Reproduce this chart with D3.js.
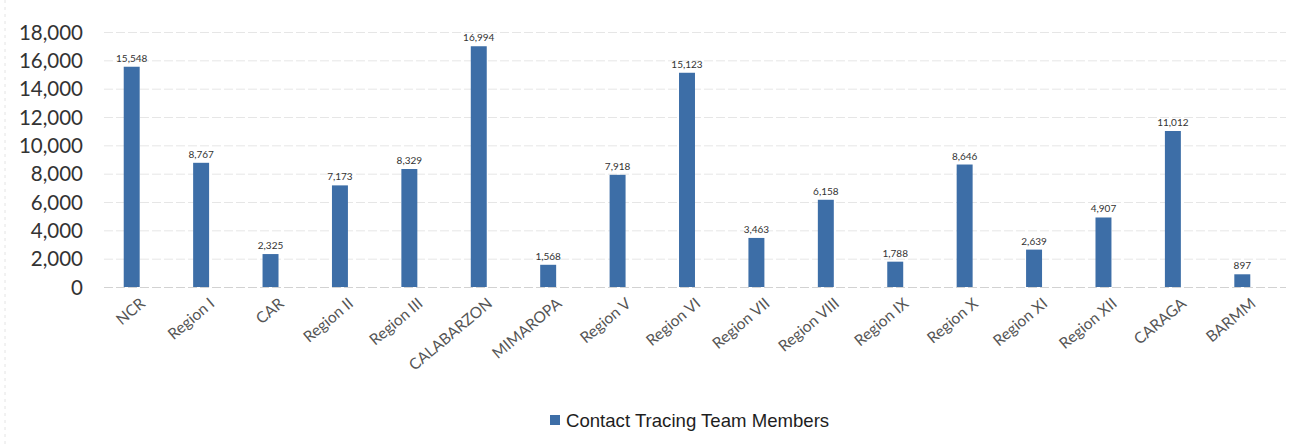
<!DOCTYPE html>
<html>
<head>
<meta charset="utf-8">
<script src="https://cdn.jsdelivr.net/npm/d3@7"></script>
<style>
  body { margin: 0; background: #fff; }
  svg { display: block; }
</style>
</head>
<body>
<svg id="chart" width="1303" height="448"></svg>
<script>
// regions and counts
var regions = ["NCR", "Region I", "CAR", "Region II", "Region III", "CALABARZON", "MIMAROPA",
  "Region V", "Region VI", "Region VII", "Region VIII", "Region IX", "Region X", "Region XI",
  "Region XII", "CARAGA", "BARMM"];
var members = [15548, 8767, 2325, 7173, 8329, 16994, 1568, 7918, 15123, 3463, 6158, 1788,
  8646, 2639, 4907, 11012, 897];
var yTicks = [0, 2000, 4000, 6000, 8000, 10000, 12000, 14000, 16000, 18000];
var seriesName = "Contact Tracing Team Members";

var svg = d3.select("#chart");
var fmt = d3.format(",");
var barColor = "#3d6ea7";

var x = d3.scaleBand()
  .domain(regions)
  .range([97, 1277])
  .paddingInner(0.77)
  .paddingOuter(0.385);

var y = d3.scaleLinear()
  .domain([0, 18000])
  .range([287, 32]);

// faint frame line on the left of the scan
svg.append("line")
  .attr("x1", 5).attr("x2", 5).attr("y1", 0).attr("y2", 448)
  .attr("stroke", "#e4e4e4").attr("stroke-dasharray", "3,4");

// gridlines
svg.append("g")
  .selectAll("line")
  .data(yTicks)
  .join("line")
  .attr("x1", 104).attr("x2", 1286)
  .attr("y1", function(d){ return y(d) + 0.5 })
  .attr("y2", function(d){ return y(d) + 0.5 })
  .attr("stroke", function(d){ return d === 0 ? "#d2d2d2" : "#e6e6e6" })
  .attr("stroke-dasharray", "9,3");

// y axis labels
var yAxis = d3.axisLeft(y).tickValues(yTicks).tickFormat(fmt).tickSize(0).tickPadding(0);
var gy = svg.append("g").attr("transform", "translate(83,0)").call(yAxis);
gy.select(".domain").remove();
gy.selectAll("text")
  .attr("font-family", "Lato, 'Open Sans', sans-serif")
  .attr("font-size", 20.5)
  .attr("fill", "#333")
  .attr("dy", "0.35em");

// bars
svg.append("g")
  .selectAll("rect")
  .data(members)
  .join("rect")
  .attr("x", function(d, i){ return x(regions[i]) })
  .attr("width", x.bandwidth())
  .attr("y", function(d){ return y(d) })
  .attr("height", function(d){ return y(0) - y(d) })
  .attr("fill", barColor);

// data labels
svg.append("g")
  .selectAll("text")
  .data(members)
  .join("text")
  .attr("x", function(d, i){ return x(regions[i]) + x.bandwidth() / 2 })
  .attr("y", function(d){ return y(d) - 5 })
  .attr("text-anchor", "middle")
  .attr("font-family", "Lato, 'Open Sans', sans-serif")
  .attr("font-size", 10)
  .attr("fill", "#333")
  .text(function(d){ return fmt(d) });

// x axis labels, rotated
var xAxis = d3.axisBottom(x).tickSize(0).tickPadding(0);
var gx = svg.append("g").attr("transform", "translate(0,287)").call(xAxis);
gx.select(".domain").remove();
gx.selectAll("text")
  .attr("font-family", "Lato, 'Open Sans', sans-serif")
  .attr("font-size", 15.5)
  .attr("fill", "#555")
  .attr("text-anchor", "end")
  .attr("dy", "0.35em")
  .attr("transform", "translate(11,14) rotate(-40)");

// legend
var lg = svg.append("g").attr("transform", "translate(550,420)");
lg.append("rect")
  .attr("x", 0).attr("y", -5).attr("width", 10).attr("height", 10)
  .attr("fill", barColor);
lg.append("text")
  .attr("x", 16).attr("y", 0).attr("dy", "0.35em")
  .attr("font-family", "'Liberation Sans', Arial, sans-serif")
  .attr("font-size", 18.6)
  .attr("fill", "#1e1e1e")
  .text(seriesName);
</script>
</body>
</html>
